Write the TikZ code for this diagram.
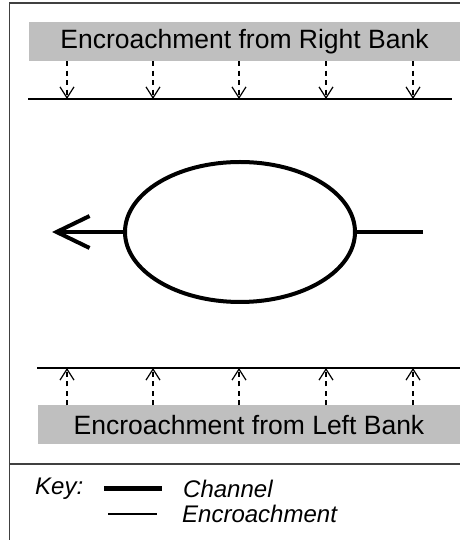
\documentclass[tikz,border=0pt]{standalone}
\usepackage{fontspec}
\setmainfont{Liberation Sans}
\usetikzlibrary{arrows.meta, shapes.geometric}

\begin{document}
\begin{tikzpicture}[x=1pt, y=1pt]
	\tikzstyle{frame} = [ draw=black!75, line width=1.5pt ];
	\tikzstyle{bank} = [ fill=black!25, minimum height=39pt, inner sep=0pt, font={\fontsize{26.5}{30}\selectfont} ];
	\tikzstyle{edge} = [ line width=1.3pt ];
	\tikzstyle{push} = [ ->, line width=1.2pt, dash pattern=on 5pt off 4.5pt, >={Straight Barb[length=11pt, width=14pt]} ];
	\tikzstyle{channel} = [ line width=4pt ];
	\tikzstyle{key} = [ anchor=west, inner sep=0pt, font={\itshape\fontsize{24}{28}\selectfont} ];

	\useasboundingbox (0,0) rectangle (460,540);

	% frame and key separator
	\draw[frame] (9.5,0) -- (9.5,537) -- (460,537);
	\draw[frame] (9.5,76) -- (460,76);

	% banks
	\node[bank, minimum width=431pt] (right) at (244.5,498.5) {Encroachment from Right Bank};
	\node[bank, minimum width=422pt] (left) at (249,115) {Encroachment from Left Bank};

	\draw[edge] (28,441) -- (452,441);
	\draw[edge] (37,172) -- (460,172);

	\def \spots {67, 153, 239, 326, 413}

	\foreach \x [count=\xi] in \spots {
		\coordinate (r\xi) at (\x,441);
		\coordinate (l\xi) at (\x,172);
		\draw[push] (right.south -| r\xi) -- (r\xi);
		\draw[push] (left.north -| l\xi) -- (l\xi);
	}

	% channel
	\node[draw, ellipse, channel, minimum width=230pt, minimum height=140pt, inner sep=0pt] (pool) at (240,308) {};
	\coordinate (out) at (52,308);
	\coordinate (in) at (423,308);
	\draw[channel, ->, >={Straight Barb[length=33pt, width=32pt]}] (pool.west) -- (out);
	\draw[channel] (in) -- (pool.east);

	% key
	\node[key] (keyt) at (35,51) {Key:};
	\node[key] (chan) at (183,51) {Channel};
	\node[key] (encr) at (182,26) {Encroachment};
	\draw[line width=5pt] (104,51) -- (162,51);
	\draw[line width=1.3pt] (108,26) -- (157,26);
\end{tikzpicture}
\end{document}
